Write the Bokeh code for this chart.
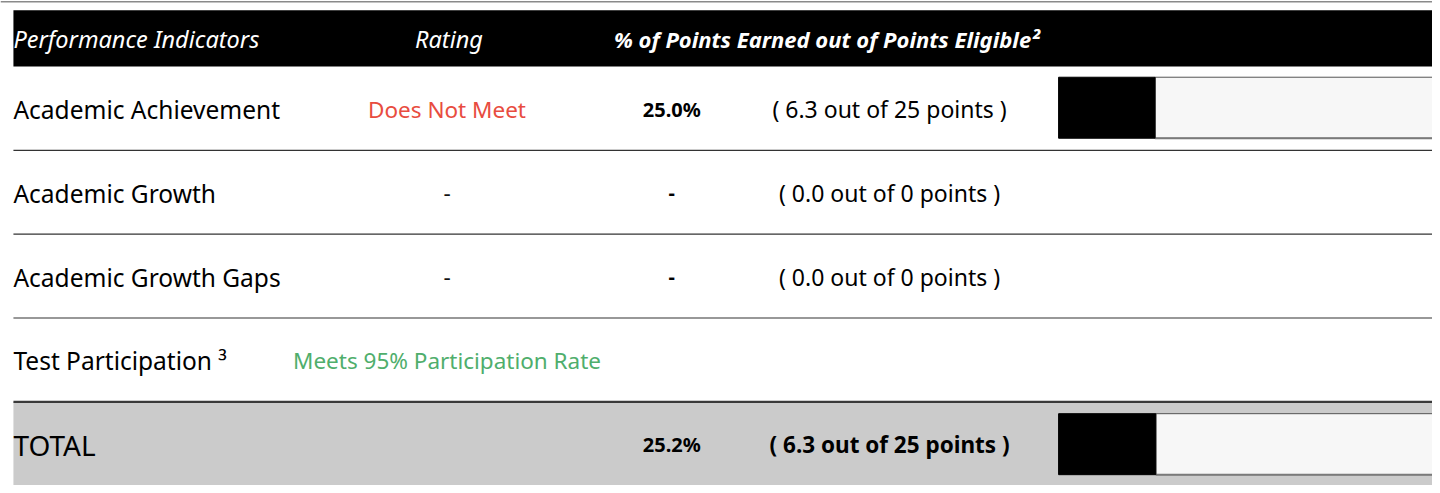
from bokeh.plotting import figure
from bokeh.models import Range1d, ColumnDataSource
from bokeh.core.properties import value
from bokeh.embed import file_html
from bokeh.resources import INLINE

# ---------------- data ----------------
header_labels = ["Performance Indicators", "Rating", "% of Points Earned out of Points Eligible\u00b2"]
indicators = ["Academic Achievement", "Academic Growth", "Academic Growth Gaps", "Test Participation \u00b3", "TOTAL"]
ratings = ["Does Not Meet", "-", "-", "Meets 95% Participation Rate", ""]
rating_colors = ["#e84c40", "#111111", "#111111", "#4fae6c", "#111111"]
pct_earned = [25.0, None, None, None, 25.2]
points_earned = [6.3, 0.0, 0.0, None, 6.3]
points_eligible = [25, 0, 0, None, 25]

# ---------------- layout ----------------
W, H = 1432, 485
RW, RH = 1440, 493
LEFT = 13
HEAD_TOP, HEAD_BOT = 10, 67
ROW_H = 85.25
RATING_X, PCT_X, PTS_X = 449, 675, 897
BAR_X, BAR_W, BAR_H, BAR_OFF = 1064, 388, 62, 11
FONT = "Noto Sans"

p = figure(width=W, height=H, x_range=Range1d(0, RW), y_range=Range1d(RH, 0),
           output_backend="svg", toolbar_location=None, min_border=0)
p.axis.visible = False
p.grid.visible = False
p.outline_line_color = None
p.background_fill_color = "white"
p.border_fill_color = "white"

n = len(indicators)
row_top = [HEAD_BOT + i * ROW_H for i in range(n)]
row_mid = [t + ROW_H / 2 + 1 for t in row_top]

# top rule
p.line(x=[0, RW], y=[1.2, 1.2], line_color="#8a8a8a", line_width=1.5)

# header band
p.quad(left=[LEFT], right=[RW + 5], top=[HEAD_TOP], bottom=[HEAD_BOT], fill_color="black", line_color=None)
hm = (HEAD_TOP + HEAD_BOT) / 2 + 1
p.text(x=[LEFT], y=[hm], text=[header_labels[0]], text_color="white", text_font=value(FONT),
       text_font_style="italic", text_font_size="23.5px", text_baseline="middle", text_align="left")
p.text(x=[RATING_X + 2], y=[hm], text=[header_labels[1]], text_color="white", text_font=value(FONT),
       text_font_style="italic", text_font_size="23.5px", text_baseline="middle", text_align="center")
p.text(x=[617], y=[hm], text=[header_labels[2]], text_color="white", text_font=value(FONT),
       text_font_style="bold italic", text_font_size="22px", text_baseline="middle", text_align="left")

# total row background
p.quad(left=[LEFT], right=[RW + 5], top=[row_top[-1]], bottom=[RH + 5], fill_color="#cbcbcb", line_color=None)

# separators
for i in range(n - 1):
    y = row_top[i + 1]
    last = (i == n - 2)
    p.line(x=[LEFT, RW + 5], y=[y, y], line_color="#333333" if not last else "#3a3a3a",
           line_width=1.2 if not last else 2.2)

# labels
src = ColumnDataSource(dict(x=[LEFT] * (n - 1), y=row_mid[:-1], t=indicators[:-1]))
p.text(x="x", y="y", text="t", source=src, text_color="black", text_font=value(FONT),
       text_font_size="24.5px", text_baseline="middle", text_align="left")
p.text(x=[LEFT], y=[row_mid[-1]], text=[indicators[-1]], text_color="black", text_font=value(FONT),
       text_font_size="28px", text_baseline="middle", text_align="left")

# ratings
rsrc = ColumnDataSource(dict(x=[RATING_X] * n, y=row_mid, t=ratings, c=rating_colors))
p.text(x="x", y="y", text="t", text_color="c", source=rsrc, text_font=value(FONT),
       text_font_size="22.5px", text_baseline="middle", text_align="center")

# percent + points + bars
for i in range(n):
    is_total = (i == n - 1)
    if pct_earned[i] is not None:
        pt = f"{pct_earned[i]:.1f}%"
    elif points_eligible[i] is not None:
        pt = "-"
    else:
        pt = ""
    if pt:
        p.text(x=[PCT_X], y=[row_mid[i]], text=[pt], text_color="black", text_font=value(FONT),
               text_font_style="bold", text_font_size="20px", text_baseline="middle", text_align="center")
    if points_eligible[i] is not None:
        s = f"(  {points_earned[i]:.1f} out of {points_eligible[i]} points )"
        p.text(x=[PTS_X], y=[row_mid[i]], text=[s], text_color="black", text_font=value(FONT),
               text_font_style="bold" if is_total else "normal",
               text_font_size="22.5px" if is_total else "23px", text_baseline="middle", text_align="center")
    if pct_earned[i] is not None and points_eligible[i]:
        top = row_top[i] + BAR_OFF + (1 if is_total else 0)
        bot = top + BAR_H
        xe = BAR_X + BAR_W * pct_earned[i] / 100.0
        p.quad(left=[xe], right=[BAR_X + BAR_W], top=[top], bottom=[bot], fill_color="#f7f7f7",
               line_color="#555555", line_width=1)
        p.line(x=[xe, BAR_X + BAR_W], y=[bot, bot], line_color="#7a7a7a", line_width=2)
        p.quad(left=[BAR_X], right=[xe], top=[top], bottom=[bot], fill_color="black", line_color="black", line_width=1)

open("out.html", "w").write(file_html(p, INLINE))
